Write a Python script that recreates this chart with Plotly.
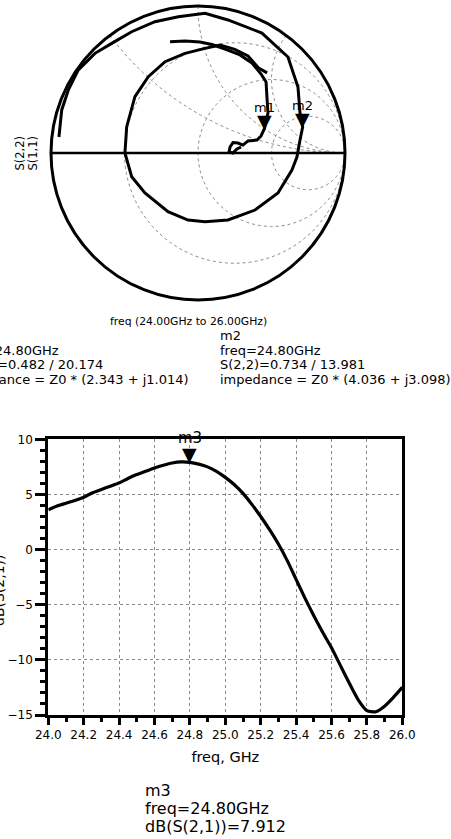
import numpy as np
import plotly.graph_objects as go

# ---------------- data ----------------
# S(2,2) reflection coefficient (real, imag), 24 -> 26 GHz
s22_re = [-0.946, -0.927, -0.882, -0.814, -0.701, -0.587, -0.451, -0.293, -0.134, 0.048,
          0.204, 0.435, 0.612, 0.680, 0.694, 0.712, 0.694, 0.673, 0.639, 0.544,
          0.388, 0.204, 0.048, -0.068, -0.204, -0.361, -0.451, -0.497, -0.485, -0.429,
          -0.338, -0.224, -0.088, 0.048, 0.150, 0.250, 0.340, 0.410, 0.470]
s22_im = [0.109, 0.293, 0.429, 0.565, 0.678, 0.746, 0.825, 0.893, 0.927, 0.950,
          0.905, 0.816, 0.653, 0.449, 0.272, 0.177, 0.088, -0.027, -0.116, -0.272,
          -0.388, -0.456, -0.467, -0.456, -0.399, -0.272, -0.161, 0.000, 0.179, 0.383,
          0.519, 0.621, 0.678, 0.712, 0.735, 0.705, 0.660, 0.580, 0.545]

# S(1,1) reflection coefficient (real, imag)
s11_re = [-0.190, -0.088, 0.014, 0.095, 0.184, 0.286, 0.367, 0.429, 0.463, 0.469,
          0.476, 0.452, 0.429, 0.401, 0.340, 0.306, 0.272, 0.238, 0.218, 0.211,
          0.238, 0.265, 0.293]
s11_im = [0.757, 0.762, 0.755, 0.738, 0.707, 0.667, 0.612, 0.537, 0.483, 0.381,
          0.272, 0.166, 0.116, 0.088, 0.082, 0.054, 0.068, 0.071, 0.041, 0.007,
          0.000, 0.027, 0.041]

# dB(S(2,1)) vs frequency
freq_ghz = [24.00, 24.05, 24.10, 24.15, 24.20, 24.25, 24.30, 24.35, 24.40, 24.45,
            24.50, 24.55, 24.60, 24.65, 24.70, 24.75, 24.80, 24.85, 24.90, 24.95,
            25.00, 25.05, 25.10, 25.15, 25.20, 25.25, 25.30, 25.35, 25.40, 25.45,
            25.50, 25.55, 25.60, 25.65, 25.70, 25.75, 25.80, 25.85, 25.90, 25.95, 26.00]
db_s21 = [3.60, 3.95, 4.20, 4.45, 4.75, 5.15, 5.45, 5.75, 6.05, 6.45,
          6.80, 7.10, 7.40, 7.65, 7.85, 7.95, 7.91, 7.75, 7.50, 7.10,
          6.55, 5.90, 5.10, 4.10, 3.00, 1.80, 0.50, -1.00, -2.70, -4.40,
          -6.00, -7.50, -8.90, -10.50, -12.10, -13.60, -14.60, -14.70, -14.20, -13.40, -12.50]

x_ticks = [24.0, 24.2, 24.4, 24.6, 24.8, 25.0, 25.2, 25.4, 25.6, 25.8, 26.0]
y_ticks = [-15, -10, -5, 0, 5, 10]
smith_r_grid = [1/3, 1, 3]
smith_x_grid = [0.5, 1, 2]

# markers
m1 = dict(name="m1", freq="24.80GHz", mag=0.482, ang=20.174, z="2.343 + j1.014", s="S(1,1)")
m2 = dict(name="m2", freq="24.80GHz", mag=0.734, ang=13.981, z="4.036 + j3.098", s="S(2,2)")
m3_freq, m3_db = 24.80, 7.912

# ---------------- figure ----------------
W, H = 451, 839
FONT = "DejaVu Sans"


def px_x(p):
    return p / W


def px_y(p):
    return 1 - p / H


def g2z(re, im):
    g = np.array(re) + 1j * np.array(im)
    z = (1 + g) / (1 - g)
    return z.real, z.imag


fig = go.Figure()

for re, im, nm in [(s22_re, s22_im, "S(2,2)"), (s11_re, s11_im, "S(1,1)")]:
    zr, zi = g2z(re, im)
    fig.add_trace(go.Scattersmith(real=zr, imag=zi, mode="lines", name=nm,
                                  line=dict(color="black", width=3),
                                  showlegend=False, hoverinfo="skip"))

fig.add_trace(go.Scatter(x=freq_ghz, y=db_s21, mode="lines", name="dB(S(2,1))",
                         line=dict(color="black", width=3.2, shape="spline", smoothing=0.6),
                         showlegend=False, hoverinfo="skip", xaxis="x", yaxis="y"))

# invisible overlay axis for smith markers (reflection-coefficient plane)
fig.add_trace(go.Scatter(x=[], y=[], xaxis="x2", yaxis="y2", showlegend=False))

sm_dom_x = [px_x(51), px_x(345)]
sm_dom_y = [px_y(300), px_y(6)]

fig.update_layout(
    template="none",
    width=W, height=H,
    margin=dict(l=0, r=0, t=0, b=0, pad=0, autoexpand=False),
    paper_bgcolor="white", plot_bgcolor="white",
    font=dict(family=FONT, color="black"),
    smith=dict(
        domain=dict(x=sm_dom_x, y=sm_dom_y),
        bgcolor="white",
        realaxis=dict(tickvals=smith_r_grid, showticklabels=False, ticks="",
                      gridcolor="#8a8a8a", gridwidth=1, griddash="dot",
                      showline=True, linecolor="black", linewidth=2.5),
        imaginaryaxis=dict(tickvals=smith_x_grid, showticklabels=False, ticks="",
                           gridcolor="#8a8a8a", gridwidth=1, griddash="dot",
                           showline=True, linecolor="black", linewidth=3),
    ),
    xaxis2=dict(domain=sm_dom_x, range=[-1, 1], visible=False, anchor="y2", automargin=False),
    yaxis2=dict(domain=sm_dom_y, range=[-1, 1], visible=False, anchor="x2", automargin=False),
    xaxis=dict(domain=[px_x(48.3), px_x(402.3)], range=[24, 26], anchor="y", automargin=False,
               tickvals=x_ticks, ticktext=[f"{v:.1f}" for v in x_ticks],
               ticks="outside", ticklen=7, tickwidth=2.5, tickcolor="black",
               minor=dict(dtick=0.1, ticks="outside", ticklen=4, tickwidth=2.5, tickcolor="black", showgrid=False),
               showgrid=True, gridcolor="#8a8a8a", griddash="dot", gridwidth=1,
               showline=True, linecolor="black", linewidth=3, mirror=True,
               zeroline=False, tickfont=dict(size=12, family=FONT),
               title=dict(text="freq, GHz", font=dict(size=14.5, family=FONT), standoff=11)),
    yaxis=dict(domain=[px_y(715), px_y(439.3)], range=[-15, 10], anchor="x", automargin=False,
               tickvals=y_ticks, ticks="outside", ticklen=10, tickwidth=2.5, tickcolor="black",
               minor=dict(dtick=1, ticks="outside", ticklen=5, tickwidth=2.5, tickcolor="black", showgrid=False),
               showgrid=True, gridcolor="#8a8a8a", griddash="dot", gridwidth=1,
               showline=True, linecolor="black", linewidth=3, mirror=True,
               zeroline=False, tickfont=dict(size=12, family=FONT)),
)

ann = []
# smith markers
for m in (m1, m2):
    gx = m["mag"] * np.cos(np.radians(m["ang"]))
    gy = m["mag"] * np.sin(np.radians(m["ang"]))
    ann.append(dict(x=gx, y=gy, xref="x2", yref="y2", text="▼", showarrow=False,
                    xanchor="center", yanchor="bottom", yshift=-5, font=dict(size=19, family=FONT)))
    ann.append(dict(x=gx, y=gy, xref="x2", yref="y2", text=m["name"], showarrow=False,
                    xanchor="center", yanchor="bottom", yshift=12, font=dict(size=13, family=FONT)))

# m3 marker
ann.append(dict(x=m3_freq, y=m3_db, xref="x", yref="y", text="▼", showarrow=False,
                xanchor="center", yanchor="bottom", yshift=-5, font=dict(size=19, family=FONT)))
ann.append(dict(x=m3_freq, y=m3_db, xref="x", yref="y", text="m3", showarrow=False,
                xanchor="center", yanchor="bottom", yshift=13, font=dict(size=15, family=FONT)))

# smith labels
ann.append(dict(x=px_x(19.5), y=px_y(153), xref="paper", yref="paper", text="S(2,2)",
                xanchor="center", yanchor="middle",
                textangle=-90, showarrow=False, font=dict(size=11.5, family=FONT)))
ann.append(dict(x=px_x(32.5), y=px_y(153), xref="paper", yref="paper", text="S(1,1)",
                xanchor="center", yanchor="middle",
                textangle=-90, showarrow=False, font=dict(size=11.5, family=FONT)))
ann.append(dict(x=px_x(188), y=px_y(322), xref="paper", yref="paper",
                text="freq (24.00GHz to 26.00GHz)", showarrow=False,
                xanchor="center", yanchor="middle", font=dict(size=10.8, family=FONT)))

# marker readouts (upper)
line_y = [335.5, 350, 364.5, 379]
for m, x0 in ((m1, -44), (m2, 218)):
    lines = [m["name"], "freq=" + m["freq"],
             f"{m['s']}={m['mag']:.3f} / {m['ang']:.3f}",
             "impedance = Z0 * (" + m["z"] + ")"]
    for t, yy in zip(lines, line_y):
        ann.append(dict(x=px_x(x0), y=px_y(yy), xref="paper", yref="paper", text=t,
                        xanchor="left", yanchor="middle", showarrow=False,
                        font=dict(size=13, family=FONT)))

# m3 readout
for t, yy in zip(["m3", "freq=24.80GHz", f"dB(S(2,1))={m3_db:.3f}"], [790.5, 808.5, 826.5]):
    ann.append(dict(x=px_x(143), y=px_y(yy), xref="paper", yref="paper", text=t,
                    xanchor="left", yanchor="middle", showarrow=False,
                    font=dict(size=16, family=FONT)))

# y axis label (clipped at left edge as in the original)
ann.append(dict(x=px_x(-1), y=px_y(590), xref="paper", yref="paper", text="dB(S(2,1))",
                xanchor="center", yanchor="middle",
                textangle=-90, showarrow=False, font=dict(size=14, family=FONT)))

fig.update_layout(annotations=ann)
fig.write_html("out.html",
               config={"displayModeBar": False},
               post_script="document.body.style.margin='0';document.body.style.overflow='hidden';")
